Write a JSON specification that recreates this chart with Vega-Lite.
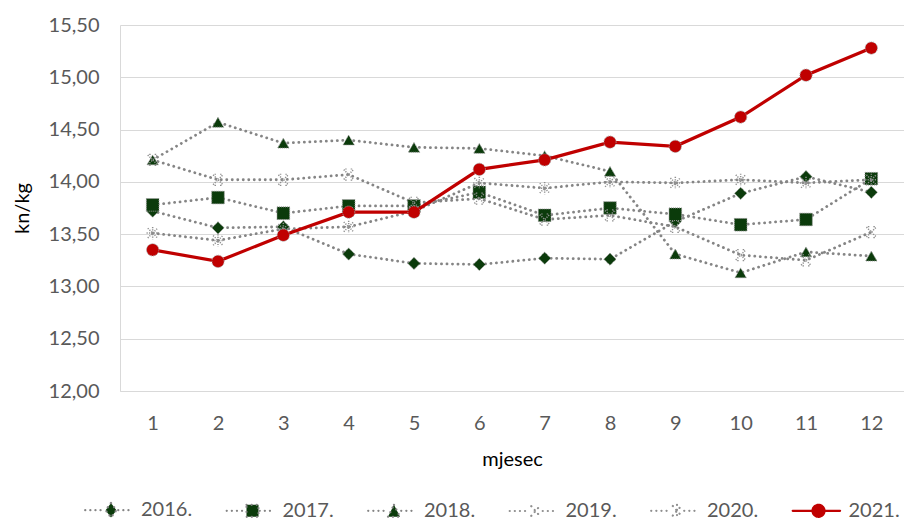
{
  "$schema": "https://vega.github.io/schema/vega-lite/v6.json",
  "width": 784,
  "height": 366,
  "autosize": "none",
  "padding": {"left": 120, "top": 25, "right": 0, "bottom": 132},
  "background": "white",
  "config": {
    "locale": {"number": {"decimal": ",", "thousands": ".", "grouping": [3], "currency": ["", ""]}},
    "view": {"stroke": null},
    "font": "Lato"
  },
  "data": {
    "values": [
      {"month": 1, "year": "2016.", "value": 13.72}, {"month": 2, "year": "2016.", "value": 13.56}, {"month": 3, "year": "2016.", "value": 13.57}, {"month": 4, "year": "2016.", "value": 13.31}, {"month": 5, "year": "2016.", "value": 13.22}, {"month": 6, "year": "2016.", "value": 13.21}, {"month": 7, "year": "2016.", "value": 13.27}, {"month": 8, "year": "2016.", "value": 13.26}, {"month": 9, "year": "2016.", "value": 13.62}, {"month": 10, "year": "2016.", "value": 13.89}, {"month": 11, "year": "2016.", "value": 14.05}, {"month": 12, "year": "2016.", "value": 13.90},
      {"month": 1, "year": "2017.", "value": 13.78}, {"month": 2, "year": "2017.", "value": 13.85}, {"month": 3, "year": "2017.", "value": 13.70}, {"month": 4, "year": "2017.", "value": 13.77}, {"month": 5, "year": "2017.", "value": 13.77}, {"month": 6, "year": "2017.", "value": 13.90}, {"month": 7, "year": "2017.", "value": 13.68}, {"month": 8, "year": "2017.", "value": 13.75}, {"month": 9, "year": "2017.", "value": 13.69}, {"month": 10, "year": "2017.", "value": 13.59}, {"month": 11, "year": "2017.", "value": 13.64}, {"month": 12, "year": "2017.", "value": 14.03},
      {"month": 1, "year": "2018.", "value": 14.21}, {"month": 2, "year": "2018.", "value": 14.57}, {"month": 3, "year": "2018.", "value": 14.37}, {"month": 4, "year": "2018.", "value": 14.40}, {"month": 5, "year": "2018.", "value": 14.33}, {"month": 6, "year": "2018.", "value": 14.32}, {"month": 7, "year": "2018.", "value": 14.25}, {"month": 8, "year": "2018.", "value": 14.10}, {"month": 9, "year": "2018.", "value": 13.31}, {"month": 10, "year": "2018.", "value": 13.13}, {"month": 11, "year": "2018.", "value": 13.33}, {"month": 12, "year": "2018.", "value": 13.29},
      {"month": 1, "year": "2019.", "value": 14.21}, {"month": 2, "year": "2019.", "value": 14.02}, {"month": 3, "year": "2019.", "value": 14.02}, {"month": 4, "year": "2019.", "value": 14.07}, {"month": 5, "year": "2019.", "value": 13.80}, {"month": 6, "year": "2019.", "value": 13.84}, {"month": 7, "year": "2019.", "value": 13.64}, {"month": 8, "year": "2019.", "value": 13.68}, {"month": 9, "year": "2019.", "value": 13.57}, {"month": 10, "year": "2019.", "value": 13.30}, {"month": 11, "year": "2019.", "value": 13.25}, {"month": 12, "year": "2019.", "value": 13.52},
      {"month": 1, "year": "2020.", "value": 13.51}, {"month": 2, "year": "2020.", "value": 13.44}, {"month": 3, "year": "2020.", "value": 13.55}, {"month": 4, "year": "2020.", "value": 13.57}, {"month": 5, "year": "2020.", "value": 13.72}, {"month": 6, "year": "2020.", "value": 13.99}, {"month": 7, "year": "2020.", "value": 13.94}, {"month": 8, "year": "2020.", "value": 14.00}, {"month": 9, "year": "2020.", "value": 13.99}, {"month": 10, "year": "2020.", "value": 14.02}, {"month": 11, "year": "2020.", "value": 13.99}, {"month": 12, "year": "2020.", "value": 14.02},
      {"month": 1, "year": "2021.", "value": 13.35}, {"month": 2, "year": "2021.", "value": 13.24}, {"month": 3, "year": "2021.", "value": 13.49}, {"month": 4, "year": "2021.", "value": 13.71}, {"month": 5, "year": "2021.", "value": 13.71}, {"month": 6, "year": "2021.", "value": 14.12}, {"month": 7, "year": "2021.", "value": 14.21}, {"month": 8, "year": "2021.", "value": 14.38}, {"month": 9, "year": "2021.", "value": 14.34}, {"month": 10, "year": "2021.", "value": 14.62}, {"month": 11, "year": "2021.", "value": 15.02}, {"month": 12, "year": "2021.", "value": 15.28}
    ]
  },
  "encoding": {
    "x": {
      "field": "month", "type": "ordinal", "title": "mjesec",
      "scale": {"type": "point", "padding": 0.5},
      "axis": {
        "labelAngle": 0, "labelFont": "Lato", "labelFontSize": 20, "labelColor": "#595959",
        "labelPadding": 22, "ticks": false, "domain": true, "domainColor": "#d9d9d9", "domainWidth": 1,
        "titleFont": "Lato", "titleFontSize": 20, "titleFontWeight": "normal", "titleColor": "#000000", "titlePadding": 16
      }
    },
    "y": {
      "field": "value", "type": "quantitative", "title": "kn/kg",
      "scale": {"domain": [12, 15.5], "nice": false, "zero": false},
      "axis": {
        "values": [12, 12.5, 13, 13.5, 14, 14.5, 15, 15.5], "format": ".2f",
        "labelFont": "Lato", "labelFontSize": 20, "labelColor": "#595959", "labelPadding": 21,
        "ticks": false, "domain": true, "domainColor": "#d9d9d9", "domainWidth": 1,
        "grid": true, "gridColor": "#d9d9d9", "gridWidth": 1,
        "titleFont": "Lato", "titleFontSize": 20, "titleFontWeight": "normal", "titleColor": "#000000", "titlePadding": 16
      }
    }
  },
  "layer": [
    {
      "transform": [{"filter": "datum.year !== '2021.'"}],
      "mark": {"type": "line", "stroke": "#858585", "strokeWidth": 2.8, "strokeDash": [0.1, 5.4], "strokeCap": "round"},
      "encoding": {"detail": {"field": "year"}}
    },
    {
      "transform": [{"filter": "datum.year === '2016.'"}],
      "mark": {"type": "point", "shape": "diamond", "size": 150, "filled": true, "fill": "#0b3b0b", "stroke": "#9a9a9a", "strokeWidth": 1, "strokeDash": [1, 1], "opacity": 1}
    },
    {
      "transform": [{"filter": "datum.year === '2017.'"}],
      "mark": {"type": "point", "shape": "square", "size": 160, "filled": true, "fill": "#0b3b0b", "stroke": "#9a9a9a", "strokeWidth": 1, "strokeDash": [1, 1], "opacity": 1}
    },
    {
      "transform": [{"filter": "datum.year === '2018.'"}],
      "mark": {"type": "point", "shape": "triangle-up", "size": 130, "filled": true, "fill": "#0b3b0b", "stroke": "#9a9a9a", "strokeWidth": 1, "strokeDash": [1, 1], "opacity": 1}
    },
    {
      "transform": [{"filter": "datum.year === '2019.'"}],
      "mark": {"type": "point", "shape": "M-0.8,-0.8L0.8,0.8M-0.8,0.8L0.8,-0.8M-0.45,-1L-0.45,-0.7M0.45,-1L0.45,-0.7M-0.45,1L-0.45,0.7M0.45,1L0.45,0.7", "size": 150, "filled": false, "stroke": "#8f8f8f", "strokeWidth": 1.5, "strokeDash": [1.2, 1.2], "opacity": 1}
    },
    {
      "transform": [{"filter": "datum.year === '2020.'"}],
      "mark": {"type": "point", "shape": "M-0.8,-0.8L0.8,0.8M-0.8,0.8L0.8,-0.8M0,-1L0,1M-1,0L1,0", "size": 150, "filled": false, "stroke": "#8f8f8f", "strokeWidth": 1.5, "strokeDash": [1.2, 1.2], "opacity": 1}
    },
    {
      "transform": [{"filter": "datum.year === '2021.'"}],
      "mark": {"type": "line", "stroke": "#c00000", "strokeWidth": 3.2}
    },
    {
      "transform": [{"filter": "datum.year === '2021.'"}],
      "mark": {"type": "point", "shape": "circle", "size": 150, "filled": true, "fill": "#c00000", "stroke": "#a0a0a0", "strokeWidth": 1, "strokeDash": [1, 1], "opacity": 1}
    },
    {
      "mark": {"type": "point", "opacity": 0, "filled": true},
      "encoding": {
        "fill": {
          "field": "year", "type": "nominal",
          "scale": {"domain": ["2016.", "2017.", "2018.", "2019.", "2020.", "2021."], "range": ["#0b3b0b", "#0b3b0b", "#0b3b0b", "#ffffff", "#ffffff", "#c00000"]},
          "legend": {
            "orient": "none", "legendX": -19, "legendY": 475, "direction": "horizontal", "title": null,
            "symbolSize": 144, "symbolStrokeWidth": 2.2, "symbolOpacity": 1,
            "labelFont": "Lato", "labelFontSize": 20, "labelColor": "#595959", "labelOffset": 20,
            "columnPadding": 28.5,
            "encode": {"symbols": {"update": {"strokeCap": {"value": "round"}}}}
          }
        },
        "stroke": {
          "field": "year", "type": "nominal",
          "scale": {"domain": ["2016.", "2017.", "2018.", "2019.", "2020.", "2021."], "range": ["#858585", "#858585", "#858585", "#8f8f8f", "#8f8f8f", "#c00000"]}
        },
        "shape": {
          "field": "year", "type": "nominal",
          "scale": {"domain": ["2016.", "2017.", "2018.", "2019.", "2020.", "2021."], "range": [
            "M-4.3,0H-1.2M1.2,0H3.6M0,-1.2L0.9,0L0,1.2L-0.9,0Z",
            "M-4.3,0H-1.2M1.2,0H3.6M-1,-1H1V1H-1Z",
            "M-4.3,0H-1.2M1.2,0H3.6M0,-1L1,1H-1Z",
            "M-4.3,0H-1.2M1.2,0H3.6M-0.7,-0.8L0.7,0.8M-0.7,0.8L0.7,-0.8",
            "M-4.3,0H-1.2M1.2,0H3.6M-0.7,-0.8L0.7,0.8M-0.7,0.8L0.7,-0.8M0,-1V1",
            "M-4.3,0H-1M1,0H3.6M1,0A1,1 0 1,1 -1,0A1,1 0 1,1 1,0Z"
          ]}
        },
        "strokeDash": {
          "field": "year", "type": "nominal",
          "scale": {"domain": ["2016.", "2017.", "2018.", "2019.", "2020.", "2021."], "range": [[0.1, 5], [0.1, 5], [0.1, 5], [0.1, 5], [0.1, 5], [1, 0]]}
        }
      }
    }
  ]
}
